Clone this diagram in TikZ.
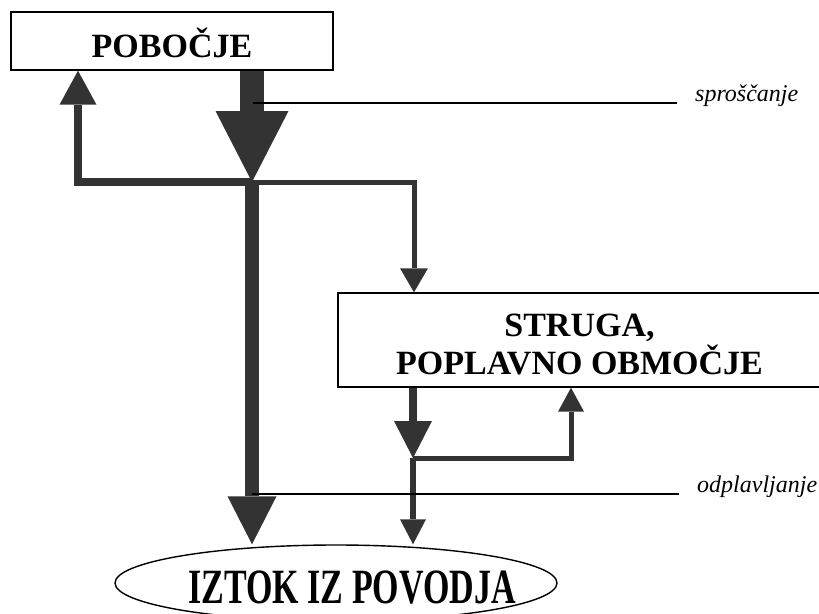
\documentclass[tikz,border=0pt]{standalone}
\usepackage{fontspec}
\setmainfont{Liberation Serif}
\usetikzlibrary{shapes.geometric,arrows.meta,calc}
\definecolor{flowgray}{HTML}{333333}

\begin{document}
\begin{tikzpicture}[x=1pt,y=-1pt,
    box/.style={draw,rectangle,line width=1.4pt,inner sep=0pt,font=\bfseries\fontsize{34}{38}\selectfont},
    sidenote/.style={inner sep=0pt,font=\itshape\fontsize{24}{26}\selectfont},
    flow/.style n args={3}{draw=flowgray,line width=#1,-{Triangle[length=#2,width=#3,line width=0pt]}},
    leader/.style={line width=1.3pt,shorten >=18pt}]
    \useasboundingbox (0,0) rectangle (819,613);

    % Boxes
    \node[box,minimum width=322pt,minimum height=58pt,text height=32pt,text depth=0pt] (pobocje) at (172,41) {POBOČJE};
    \node[box,minimum width=483pt,minimum height=94pt,align=center] (struga) at (579.5,340) {\rule{0pt}{32pt}STRUGA,\\POPLAVNO OBMOČJE};
    \node[draw,ellipse,line width=1.4pt,inner sep=0pt,minimum width=442pt,minimum height=76pt] (iztok) at (336,583) {};
    \node[inner sep=0pt,anchor=base,font=\bfseries\fontsize{34}{38}\selectfont] (iztoktxt) at (352,603) {\scalebox{1}[1.45]{IZTOK IZ POVODJA}};

    % Side notes
    \node[sidenote,anchor=base west] (sproscanje) at (695,101) {sproščanje};
    \node[sidenote,anchor=base west] (odplavljanje) at (697,492) {odplavljanje};

    % Split points
    \coordinate (j1) at (252,182);
    \coordinate (upL) at (78,182);
    \coordinate (rgt) at (414,182);
    \coordinate (j2) at (413,458);
    \coordinate (back) at (571,458);

    % Flows from the slope
    \draw[flow={24pt}{71pt}{73pt}] (pobocje.south -| j1) -- (j1);
    \draw[flow={8pt}{34pt}{37pt}] (j1) -- (upL) -- (upL |- pobocje.south);
    \draw[flow={5pt}{24pt}{28pt}] (j1) -- (rgt) -- (rgt |- struga.north);
    \draw[flow={14pt}{48pt}{49pt}] (j1) -- (j1 |- iztok.north);

    % Flows from the channel
    \draw[flow={8pt}{37pt}{38pt}] (struga.south -| j2) -- (j2);
    \draw[flow={5pt}{24pt}{26pt}] (j2) -- (back) -- (back |- struga.south);
    \draw[flow={6pt}{25pt}{26pt}] (j2) -- (j2 |- iztok.north);

    % Leader lines
    \coordinate (spr) at (253,103);
    \coordinate (odp) at (252,494);
    \draw[leader] (spr) -- (spr -| sproscanje.west);
    \draw[leader] (odp) -- (odp -| odplavljanje.west);
\end{tikzpicture}
\end{document}
